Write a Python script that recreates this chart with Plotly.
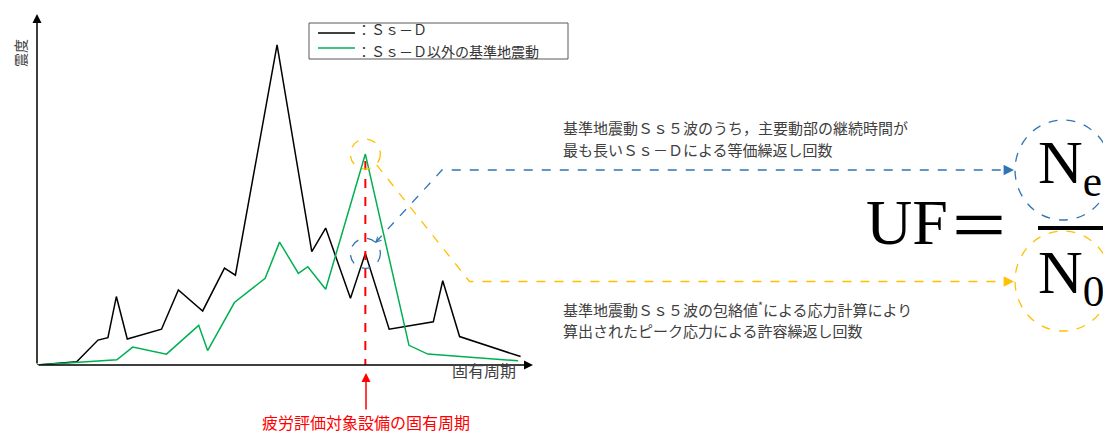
import plotly.graph_objects as go

OFF = 8  # the page body adds an 8px margin
W, H = 1111 - OFF, 435 - OFF

# spectrum values (period and intensity in relative units)
ssd_period = [0, 8.0, 12.3, 14.3, 16.0, 18.2, 25.1, 28.5, 33.4, 37.8, 40.0, 48.4,
              55.4, 58.2, 63.2, 66.2, 71.0, 79.9, 81.8, 85.2, 97.5]
ssd_value = [0, 0.9, 7.1, 7.8, 19.5, 7.4, 10.2, 21.4, 15.4, 27.6, 25.6, 91.2,
             32.3, 39.0, 19.0, 31.8, 10.2, 12.3, 24.0, 8.1, 2.4]

other_period = [0, 8.0, 16.1, 19.3, 26.1, 32.6, 34.4, 39.8, 46.0, 48.9, 52.7, 54.6,
                58.2, 66.2, 75.0, 78.8, 97.0]
other_value = [0, 0.7, 1.5, 5.1, 3.1, 11.3, 4.1, 17.8, 24.7, 35.0, 26.1, 28.0,
               21.6, 60.1, 5.6, 3.1, 1.2]

target_period = 66.2
ssd_at_target = 31.8
other_at_target = 60.1

legend_names = ["：Ｓｓ－Ｄ", "：Ｓｓ－Ｄ以外の基準地震動"]
note_ne = ["基準地震動Ｓｓ５波のうち，主要動部の継続時間が",
           "最も長いＳｓ－Ｄによる等価繰返し回数"]
note_n0 = ["基準地震動Ｓｓ５波の包絡値<sup>*</sup>による応力計算により",
           "算出されたピーク応力による許容繰返し回数"]

JP = "Noto Sans CJK JP, Noto Sans, sans-serif"
SERIF = "Liberation Serif, DejaVu Serif, serif"
TXT = "#404040"
BLUE = "#2e75b6"
ORANGE = "#ffc000"
RED = "#ff0000"
GREEN = "#00b050"


def px(x, y):
    # position in the reference picture -> paper coordinates
    return (x - OFF) / W, 1 - (y - OFF) / H


fig = go.Figure()
fig.add_trace(go.Scatter(x=ssd_period, y=ssd_value, mode="lines", name=legend_names[0],
                         line=dict(color="black", width=1.5)))
fig.add_trace(go.Scatter(x=other_period, y=other_value, mode="lines", name=legend_names[1],
                         line=dict(color=GREEN, width=1.5)))
fig.add_trace(go.Scatter(x=[target_period, target_period], y=[other_at_target - 2, 0],
                         mode="lines", showlegend=False,
                         line=dict(color=RED, width=2, dash="dash")))

shapes = []
# small dashed circles on the two spectra
for yv, col in [(ssd_at_target, BLUE), (other_at_target, ORANGE)]:
    shapes.append(dict(type="circle", xref="x", yref="y", xsizemode="pixel", ysizemode="pixel",
                       xanchor=target_period, yanchor=yv, x0=-15, x1=15, y0=-15, y1=15,
                       line=dict(color=col, width=1.3, dash="dash")))


def path(points):
    pts = [px(*p) for p in points]
    return "M" + " L".join(f"{a},{b}" for a, b in pts)


# leader lines
shapes.append(dict(type="path", xref="paper", yref="paper",
                   path=path([(375.6, 242.4), (442, 170), (1008, 170)]),
                   line=dict(color=BLUE, width=1.3, dash="dash")))
shapes.append(dict(type="path", xref="paper", yref="paper",
                   path=path([(376.6, 164.9), (469.5, 281.5), (1008, 281.5)]),
                   line=dict(color=ORANGE, width=1.3, dash="dash")))

# big circles around Ne and N0
for cy, col in [(170, BLUE), (281, ORANGE)]:
    x0, y0 = px(1015, cy - 50)
    x1, y1 = px(1111, cy + 50)
    shapes.append(dict(type="circle", xref="paper", yref="paper", x0=x0, x1=x1, y0=y1, y1=y0,
                       line=dict(color=col, width=1.3, dash="dash")))

# fraction bar
bx0, by = px(1038, 228)
bx1, _ = px(1107, 228)
shapes.append(dict(type="line", xref="paper", yref="paper", x0=bx0, x1=bx1, y0=by, y1=by,
                   line=dict(color="black", width=4)))

# legend box and keys
lx0, ly0 = px(309, 23)
lx1, ly1 = px(568, 59)
shapes.append(dict(type="rect", xref="paper", yref="paper", x0=lx0, x1=lx1, y0=ly1, y1=ly0,
                   line=dict(color="#595959", width=1), fillcolor="white"))
for ky, col in [(33, "black"), (48, GREEN)]:
    kx0, kyy = px(318, ky)
    kx1, _ = px(355, ky)
    shapes.append(dict(type="line", xref="paper", yref="paper", x0=kx0, x1=kx1, y0=kyy, y1=kyy,
                       line=dict(color=col, width=1.5)))

ann = []
for name, anchor in zip(legend_names, ["bottom", "top"]):
    x, y = px(356, 40.5)
    ann.append(dict(x=x, y=y, xref="paper", yref="paper", text=name, showarrow=False,
                    xanchor="left", yanchor=anchor, borderpad=0,
                    font=dict(family=JP, size=14, color="#333333")))

# axis arrows
ann.append(dict(x=100, y=0, ax=0, ay=0, xref="x", yref="y", axref="x", ayref="y",
                showarrow=True, arrowhead=2, arrowsize=1.2, arrowwidth=1.5, arrowcolor="black", text=""))
ann.append(dict(x=0, y=100, ax=0, ay=0, xref="x", yref="y", axref="x", ayref="y",
                showarrow=True, arrowhead=2, arrowsize=1.2, arrowwidth=1.5, arrowcolor="black", text=""))

# red arrow with label
hx, hy = px(366, 373)
ann.append(dict(x=hx, y=hy, xref="paper", yref="paper", ax=0, ay=49, borderpad=0,
                showarrow=True, arrowhead=2, arrowsize=1.2, arrowwidth=1.5, arrowcolor=RED,
                text="疲労評価対象設備の固有周期", font=dict(family=JP, size=16, color=RED)))

# leader arrowheads
for cy, col in [(170, BLUE), (281.5, ORANGE)]:
    hx, hy = px(1014, cy)
    ann.append(dict(x=hx, y=hy, xref="paper", yref="paper", ax=-10, ay=0, text="",
                    showarrow=True, arrowhead=2, arrowsize=1.6, arrowwidth=1.3, arrowcolor=col))
hx, hy = px(375, 243)
ann.append(dict(x=hx, y=hy, xref="paper", yref="paper", ax=6, ay=-6, text="",
                showarrow=True, arrowhead=5, arrowsize=0.8, arrowwidth=1.3, arrowcolor=BLUE))

# axis labels
x, y = px(484, 384)
ann.append(dict(x=x, y=y, xref="paper", yref="paper", text="固有周期", showarrow=False,
                font=dict(family=JP, size=16, color=TXT)))
x, y = px(8, 37)
ann.append(dict(x=x, y=y, xref="paper", yref="paper", text="震度", showarrow=False, textangle=-90,
                font=dict(family=JP, size=14, color=TXT)))

# explanatory notes
for lines, ys in [(note_ne, [127.5, 149.5]), (note_n0, [309, 330])]:
    for t, yy in zip(lines, ys):
        x, y = px(561, yy)
        ann.append(dict(x=x, y=y, xref="paper", yref="paper", text=t, showarrow=False,
                        xanchor="left", yanchor="middle", font=dict(family=JP, size=15, color=TXT)))

# formula
x, y = px(864, 222)
ann.append(dict(x=x, y=y, xref="paper", yref="paper", text="UF", showarrow=False,
                xanchor="left", font=dict(family=SERIF, size=64, color="black")))
x, y = px(946, 222)
ann.append(dict(x=x, y=y, xref="paper", yref="paper", text="＝", showarrow=False,
                xanchor="left", font=dict(family=JP, size=62, color="black")))
x, y = px(1036, 166)
ann.append(dict(x=x, y=y, xref="paper", yref="paper", text="N<sub>e</sub>", showarrow=False,
                xanchor="left", font=dict(family=SERIF, size=62, color="black")))
x, y = px(1036, 276)
ann.append(dict(x=x, y=y, xref="paper", yref="paper", text="N<sub>0</sub>", showarrow=False,
                xanchor="left", font=dict(family=SERIF, size=62, color="black")))

fig.update_layout(
    width=W, height=H,
    margin=dict(l=0, r=0, t=0, b=0),
    paper_bgcolor="white", plot_bgcolor="white",
    xaxis=dict(domain=[(37 - OFF) / W, (533 - OFF) / W], range=[0, 100], visible=False),
    yaxis=dict(domain=[1 - (365 - OFF) / H, 1 - (14 - OFF) / H], range=[0, 100], visible=False),
    shapes=shapes,
    annotations=ann,
    showlegend=False,
)

fig.write_html("out.html")
